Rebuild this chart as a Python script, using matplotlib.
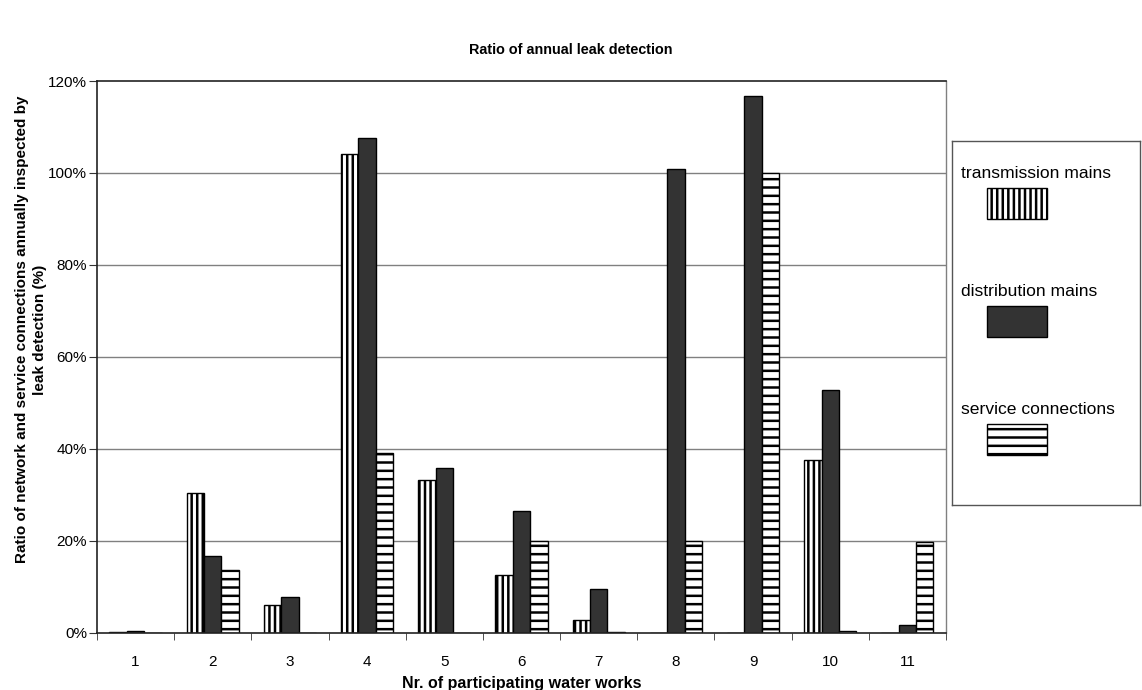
import numpy as np
import matplotlib
matplotlib.use("Agg")
import matplotlib.pyplot as plt
from matplotlib.patches import Rectangle
from matplotlib.ticker import PercentFormatter

plt.rcParams['font.family'] = ['Liberation Sans', 'DejaVu Sans']
plt.rcParams['hatch.linewidth'] = 1.8

works = ["1", "2", "3", "4", "5", "6", "7", "8", "9", "10", "11"]
# share of network inspected per year, in %
transmission = [0.1, 30.3, 5.9, 104.2, 33.2, 12.5, 2.7, 0.0, 0.0, 37.6, 0.0]
distribution = [0.3, 16.7, 7.7, 107.5, 35.8, 26.5, 9.4, 100.8, 116.7, 52.7, 1.7]
service = [0.0, 13.6, 0.0, 39.0, 0.0, 20.0, 0.2, 19.9, 100.0, 0.4, 19.6]

series_names = ["transmission mains", "distribution mains", "service connections"]
series_styles = [
    dict(facecolor="white", hatch="|||"),
    dict(facecolor="#333333", hatch=None),
    dict(facecolor="white", hatch="--"),
]

fig = plt.figure(figsize=(11.42, 6.9), dpi=100)
ax = fig.add_axes([0.0849, 0.0833, 0.7435, 0.7993])

x = np.arange(1, len(works) + 1)
w = 0.225
for k, vals in enumerate([transmission, distribution, service]):
    ax.bar(x + (k - 1) * w, vals, width=w, edgecolor="black", linewidth=1.0,
           **series_styles[k])

ax.set_xlim(0.5, len(works) + 0.5)
ax.set_ylim(0, 120)
ax.set_yticks(np.arange(0, 121, 20))
ax.yaxis.set_major_formatter(PercentFormatter(decimals=0))
ax.set_xticks(x)
ax.set_xticklabels(works)
ax.set_xticks(np.arange(0.5, len(works) + 1), minor=True)
ax.tick_params(axis="x", which="major", length=0, pad=16, labelsize=11)
ax.tick_params(axis="x", which="minor", length=5, direction="out", color="#333333")
ax.tick_params(axis="y", length=6, direction="out", labelsize=11, pad=1, color="#333333")

for y in range(20, 101, 20):
    ax.axhline(y, color="#808080", linewidth=1.0, zorder=0)
ax.set_axisbelow(True)
for side in ["left", "bottom", "top"]:
    ax.spines[side].set_color("#222222")
    ax.spines[side].set_linewidth(1.2)
ax.spines["right"].set_color("#808080")
ax.spines["right"].set_linewidth(1.0)

ax.set_xlabel("Nr. of participating water works", fontsize=11.5, fontweight="bold")
ax.xaxis.set_label_coords(0.5, -0.078)
ax.set_ylabel("Ratio of network and service connections annually inspected by\nleak detection (%)",
              fontsize=11, fontweight="bold", linespacing=1.35)
ax.yaxis.set_label_coords(-0.059, 0.549)
fig.text(0.5, 0.928, "Ratio of annual leak detection", ha="center", va="center",
         fontsize=10.4, fontweight="bold")

# legend box: label above each swatch
lax = fig.add_axes([0.8336, 0.2681, 0.1646, 0.5275])
lax.set_xlim(0, 188)
lax.set_ylim(364, 0)
lax.set_xticks([])
lax.set_yticks([])
for s in lax.spines.values():
    s.set_color("#555555")
    s.set_linewidth(1.0)
for k, name in enumerate(series_names):
    ty = 32 + k * 118
    lax.text(9, ty, name, fontsize=12.6, va="center", ha="left")
    lax.add_patch(Rectangle((35, ty + 15), 60, 31, edgecolor="black", linewidth=1.0,
                            **series_styles[k]))

fig.savefig("out.png", dpi=100)
